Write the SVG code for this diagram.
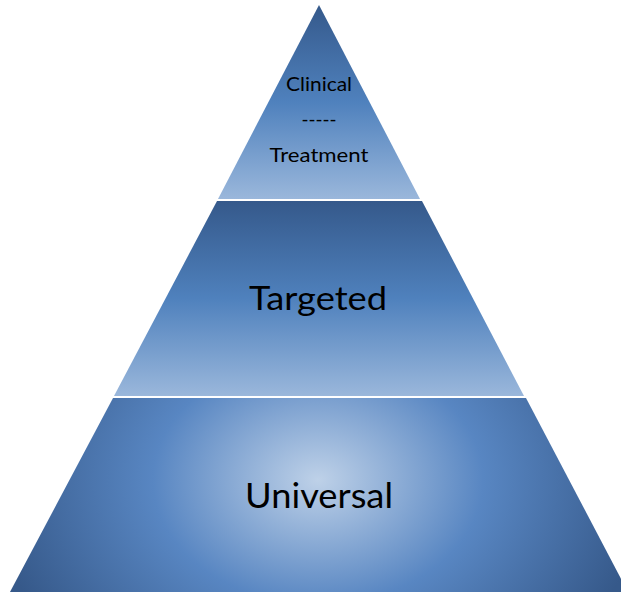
<svg xmlns="http://www.w3.org/2000/svg" width="621" height="592" viewBox="0 0 621 592">
  <style>
    .tier { stroke: none; }
    .label { font-family: Lato, "Open Sans", "Liberation Sans", sans-serif; fill: #000; text-anchor: middle; }
  </style>
  <defs>
    <linearGradient id="bandFill" x1="0" y1="0" x2="0" y2="1">
      <stop offset="0" stop-color="#35598b"/>
      <stop offset="0.5" stop-color="#4f81bd"/>
      <stop offset="1" stop-color="#9ab7db"/>
    </linearGradient>
    <radialGradient id="baseFill" gradientUnits="userSpaceOnUse" cx="318" cy="480" r="330" gradientTransform="translate(318 480) scale(1 0.75) translate(-318 -480)">
      <stop offset="0" stop-color="#bed1e8"/>
      <stop offset="0.5" stop-color="#5886c2"/>
      <stop offset="1" stop-color="#36598a"/>
    </radialGradient>
  </defs>

  <g id="tier-clinical">
    <polygon class="tier" points="319,5 420,199 218,199" fill="url(#bandFill)"/>
    <text class="label" x="319" y="91" font-size="20" textLength="66" lengthAdjust="spacingAndGlyphs">Clinical</text>
    <text class="label" x="319" y="126" font-size="20" textLength="35" lengthAdjust="spacingAndGlyphs">-----</text>
    <text class="label" x="319" y="162" font-size="20" textLength="99" lengthAdjust="spacingAndGlyphs">Treatment</text>
  </g>

  <g id="tier-targeted">
    <polygon class="tier" points="217,201 422,201 524,396 114,396" fill="url(#bandFill)"/>
    <text class="label" x="318" y="310" font-size="33" textLength="138" lengthAdjust="spacingAndGlyphs">Targeted</text>
  </g>

  <g id="tier-universal">
    <polygon class="tier" points="113,398 526,398 628,592 10,592" fill="url(#baseFill)"/>
    <text class="label" x="319" y="508" font-size="35" textLength="148" lengthAdjust="spacingAndGlyphs">Universal</text>
  </g>

  <g id="connectors"/>
</svg>
